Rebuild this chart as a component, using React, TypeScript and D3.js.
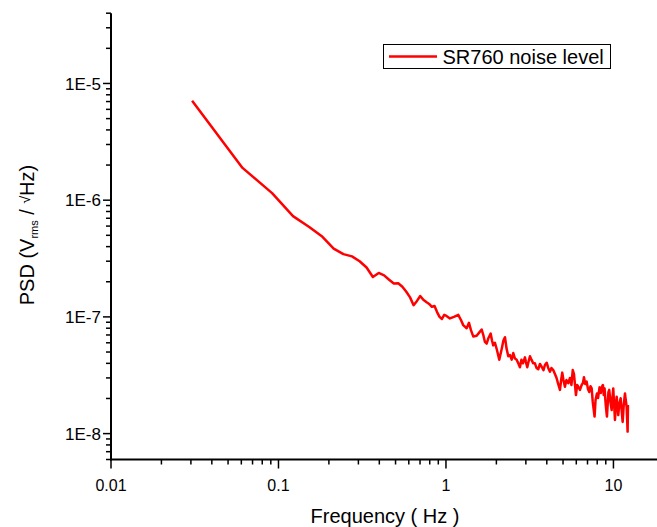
import React from "react";
import * as d3 from "d3";

// Frequency (Hz) of each plotted sample
const freq = [
  0.0305, 0.0610, 0.0916, 0.1221, 0.1526, 0.1831, 0.2136, 0.2441, 0.2747, 0.3052,
  0.3357, 0.3662, 0.3967, 0.4272, 0.4578, 0.4883, 0.5188, 0.5493, 0.5798, 0.6104,
  0.6409, 0.6714, 0.7019, 0.7324, 0.7629, 0.7935, 0.8240, 0.8545, 0.8850, 0.9155,
  0.9460, 0.9766, 1.0071,
  1.056, 1.116, 1.184, 1.229, 1.268, 1.329, 1.372, 1.410, 1.455, 1.525,
  1.574, 1.634, 1.675, 1.709, 1.750, 1.794, 1.849, 1.882, 1.916, 1.961,
  2.016, 2.081, 2.145, 2.205, 2.251, 2.298, 2.355, 2.411, 2.468, 2.523,
  2.582, 2.643, 2.702, 2.765, 2.822, 2.881, 2.962, 3.003, 3.058, 3.108,
  3.173, 3.239, 3.320, 3.398, 3.470, 3.556, 3.641, 3.727, 3.821, 3.899,
  3.992, 4.080, 4.177, 4.264, 4.371, 4.474, 4.580, 4.663, 4.793, 4.873,
  4.947, 5.029, 5.133, 5.240, 5.373, 5.500, 5.615, 5.715, 5.811, 5.973,
  6.073, 6.166, 6.310, 6.458, 6.575, 6.667, 6.786, 6.918, 7.044, 7.171,
  7.291, 7.413, 7.525, 7.714, 7.820, 7.972, 8.094, 8.260, 8.400, 8.512,
  8.655, 8.751, 8.851, 8.995, 9.146, 9.273, 9.335, 9.438, 9.596, 9.757,
  9.863, 9.973, 10.10, 10.21, 10.32, 10.45, 10.57, 10.68, 10.83, 11.04,
  11.19, 11.35, 11.52, 11.72, 11.84, 11.99, 12.15, 12.21,
];

// PSD (Vrms / sqrt(Hz)) of each sample
const psd = [
  7.12e-6, 1.89e-6, 1.15e-6, 7.3e-7, 5.9e-7, 4.85e-7, 3.85e-7, 3.45e-7, 3.3e-7, 3.0e-7,
  2.65e-7, 2.2e-7, 2.38e-7, 2.27e-7, 2.08e-7, 1.93e-7, 1.94e-7, 1.81e-7, 1.64e-7, 1.47e-7,
  1.26e-7, 1.37e-7, 1.51e-7, 1.40e-7, 1.34e-7, 1.29e-7, 1.22e-7, 1.24e-7, 1.10e-7, 1.00e-7,
  9.6e-8, 1.04e-7, 1.02e-7,
  9.7e-8, 1.0e-7, 1.04e-7, 9.4e-8, 8.5e-8, 8.0e-8, 8.9e-8, 7.7e-8, 6.8e-8, 6.9e-8,
  7.3e-8, 7.8e-8, 6.9e-8, 6.1e-8, 5.9e-8, 6.6e-8, 7.2e-8, 6.3e-8, 5.7e-8, 6.0e-8,
  5.2e-8, 4.3e-8, 5.2e-8, 6.3e-8, 6.7e-8, 5.4e-8, 4.6e-8, 4.7e-8, 4.3e-8, 4.9e-8,
  4.4e-8, 4.3e-8, 4.0e-8, 3.7e-8, 4.3e-8, 4.0e-8, 4.5e-8, 4.1e-8, 3.7e-8, 4.1e-8,
  4.6e-8, 4.3e-8, 4.0e-8, 4.0e-8, 3.65e-8, 3.56e-8, 3.95e-8, 3.74e-8, 3.5e-8, 3.87e-8,
  4.05e-8, 3.65e-8, 3.39e-8, 3.65e-8, 3.5e-8, 3.24e-8, 2.98e-8, 2.71e-8, 2.37e-8, 2.88e-8,
  3.33e-8, 2.88e-8, 2.52e-8, 2.88e-8, 2.7e-8, 3.0e-8, 2.61e-8, 3.5e-8, 3.24e-8, 2.14e-8,
  2.61e-8, 2.52e-8, 2.37e-8, 2.61e-8, 2.71e-8, 3.04e-8, 2.66e-8, 2.79e-8, 2.41e-8, 2.27e-8,
  2.55e-8, 2.44e-8, 1.87e-8, 1.40e-8, 1.94e-8, 2.21e-8, 2.02e-8, 2.49e-8, 2.23e-8, 2.5e-8,
  2.61e-8, 2.14e-8, 2.44e-8, 1.76e-8, 1.40e-8, 1.94e-8, 2.27e-8, 2.37e-8, 1.87e-8, 1.59e-8,
  2.02e-8, 2.44e-8, 1.76e-8, 1.31e-8, 1.66e-8, 2.07e-8, 1.76e-8, 1.44e-8, 1.76e-8, 2.01e-8,
  1.59e-8, 1.26e-8, 1.76e-8, 2.21e-8, 1.94e-8, 1.70e-8, 1.04e-8, 1.76e-8,
];

const xMajorTicks = [0.01, 0.1, 1, 10];
const xMajorLabels = ["0.01", "0.1", "1", "10"];
const yMajorTicks = [1e-8, 1e-7, 1e-6, 1e-5];
const yMajorLabels = ["1E-8", "1E-7", "1E-6", "1E-5"];
const seriesName = "SR760 noise level";

const W = 657;
const H = 527;
const FONT = "'Liberation Sans', Arial, Helvetica, sans-serif";

export default function App() {
  const x = d3.scaleLog().domain([0.01, 18.2]).range([111, 657]);
  const y = d3.scaleLog().domain([6e-9, 4e-5]).range([459.5, 13.2]);

  const isMajor = (v: number) =>
    Math.abs(Math.log10(v) - Math.round(Math.log10(v))) < 1e-6;
  const xMinor = x.ticks().filter((v) => !isMajor(v));
  const yMinor = y.ticks().filter((v) => !isMajor(v));

  const data = freq.map((f, i) => [f, psd[i]] as [number, number]);
  const line = d3
    .line<[number, number]>()
    .x((d) => x(d[0]))
    .y((d) => y(d[1]));

  const x0 = x(0.01);
  const yb = y(6e-9);

  return (
    <div style={{ position: "absolute", left: 0, top: 0 }}>
      <svg width={W} height={H} style={{ display: "block", background: "#fff" }} fontFamily={FONT}>
        <rect x={0} y={0} width={W} height={H} fill="#fff" />
        {/* data line */}
        <path d={line(data) || ""} fill="none" stroke="#ff0000" strokeWidth={2.5} strokeLinejoin="round" />

        {/* y axis */}
        <line x1={x0} x2={x0} y1={y(4e-5)} y2={yb + 1} stroke="#000" strokeWidth={2} />
        {yMinor.map((v, i) => (
          <line key={"ym" + i} x1={x0 - 5} x2={x0} y1={y(v)} y2={y(v)} stroke="#000" strokeWidth={1.5} />
        ))}
        {yMajorTicks.map((v, i) => (
          <g key={"yM" + i}>
            <line x1={x0 - 8} x2={x0} y1={y(v)} y2={y(v)} stroke="#000" strokeWidth={1.5} />
            <text x={x0 - 10} y={y(v)} dy="0.36em" textAnchor="end" fontSize={17} fill="#000">
              {yMajorLabels[i]}
            </text>
          </g>
        ))}

        {/* x axis */}
        <line x1={x0 - 1} x2={W} y1={yb} y2={yb} stroke="#000" strokeWidth={2} />
        {xMinor.map((v, i) => (
          <line key={"xm" + i} x1={x(v)} x2={x(v)} y1={yb} y2={yb + 5} stroke="#000" strokeWidth={1.5} />
        ))}
        {xMajorTicks.map((v, i) => (
          <g key={"xM" + i}>
            <line x1={x(v)} x2={x(v)} y1={yb} y2={yb + 9} stroke="#000" strokeWidth={1.5} />
            <text x={x(v)} y={491} textAnchor="middle" fontSize={16} fill="#000">
              {xMajorLabels[i]}
            </text>
          </g>
        ))}

        {/* axis titles */}
        <text x={385} y={523} textAnchor="middle" fontSize={20} fill="#000">
          Frequency ( Hz )
        </text>
        <text transform="translate(34,235) rotate(-90)" textAnchor="middle" fontSize={20} fill="#000">
          PSD (V
          <tspan fontSize={11} dy={4}>rms</tspan>
          <tspan dy={-4}> / </tspan>
          <tspan fontSize={14} dy={-4}>√</tspan>
          <tspan dy={4}>Hz)</tspan>
        </text>

        {/* legend */}
        <rect x={383.5} y={44.5} width={227} height={24} fill="#fff" stroke="#000" strokeWidth={1} />
        <line x1={389} x2={437} y1={56.5} y2={56.5} stroke="#ff0000" strokeWidth={2.5} />
        <text x={442.5} y={64} fontSize={20} fill="#000">
          {seriesName}
        </text>
      </svg>
    </div>
  );
}
